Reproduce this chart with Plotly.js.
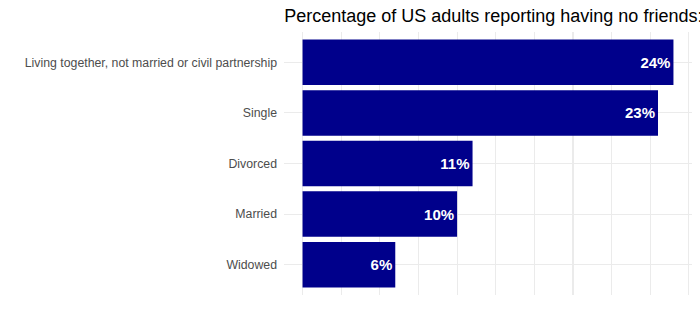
<!DOCTYPE html>
<html>
<head>
<meta charset="utf-8">
<script src="https://cdn.plot.ly/plotly-3.0.1.min.js"></script>
<style>html,body{margin:0;padding:0;background:#fff;}#chart{width:700px;height:325px;}</style>
</head>
<body>
<div id="chart"></div>
<script>
var categories = ["Living together, not married or civil partnership", "Single", "Divorced", "Married", "Widowed"];
var percentages = [24, 23, 11, 10, 6];
var titleText = "Percentage of US adults reporting having no friends:";

var trace = {
  type: 'bar',
  orientation: 'h',
  x: percentages,
  y: categories,
  width: 0.9,
  marker: {color: '#00008B', line: {width: 0}},
  texttemplate: '<b>%{x}%</b>',
  textposition: 'inside',
  insidetextanchor: 'end',
  textangle: 0,
  constraintext: 'none',
  textfont: {family: 'Liberation Sans, Arial, sans-serif', size: 15, color: '#FFFFFF'},
  hoverinfo: 'none'
};

var layout = {
  width: 700, height: 325,
  margin: {l: 284, r: 8, t: 32, b: 30, pad: 0},
  paper_bgcolor: '#FFFFFF',
  plot_bgcolor: '#FFFFFF',
  showlegend: false,
  title: {
    text: titleText,
    font: {family: 'Liberation Sans, Arial, sans-serif', size: 18, color: '#000000'},
    xref: 'paper', x: 0.513, xanchor: 'center',
    yref: 'container', y: 1 - 16/325, yanchor: 'middle'
  },
  xaxis: {
    range: [-1.2, 25.2],
    tick0: 0, dtick: 2.5,
    showticklabels: false,
    ticks: '',
    showgrid: true, gridcolor: '#EBEBEB', gridwidth: 1.07,
    zeroline: false, showline: false
  },
  yaxis: {
    type: 'category',
    categoryorder: 'array',
    categoryarray: categories,
    range: [4.6, -0.6],
    ticks: '',
    ticklabelstandoff: 6,
    tickfont: {family: 'Liberation Sans, Arial, sans-serif', size: 12.3, color: '#4D4D4D'},
    showgrid: true, gridcolor: '#EBEBEB', gridwidth: 1.07,
    zeroline: false, showline: false
  }
};

Plotly.newPlot('chart', [trace], layout, {staticPlot: true, displayModeBar: false});
</script>
</body>
</html>
